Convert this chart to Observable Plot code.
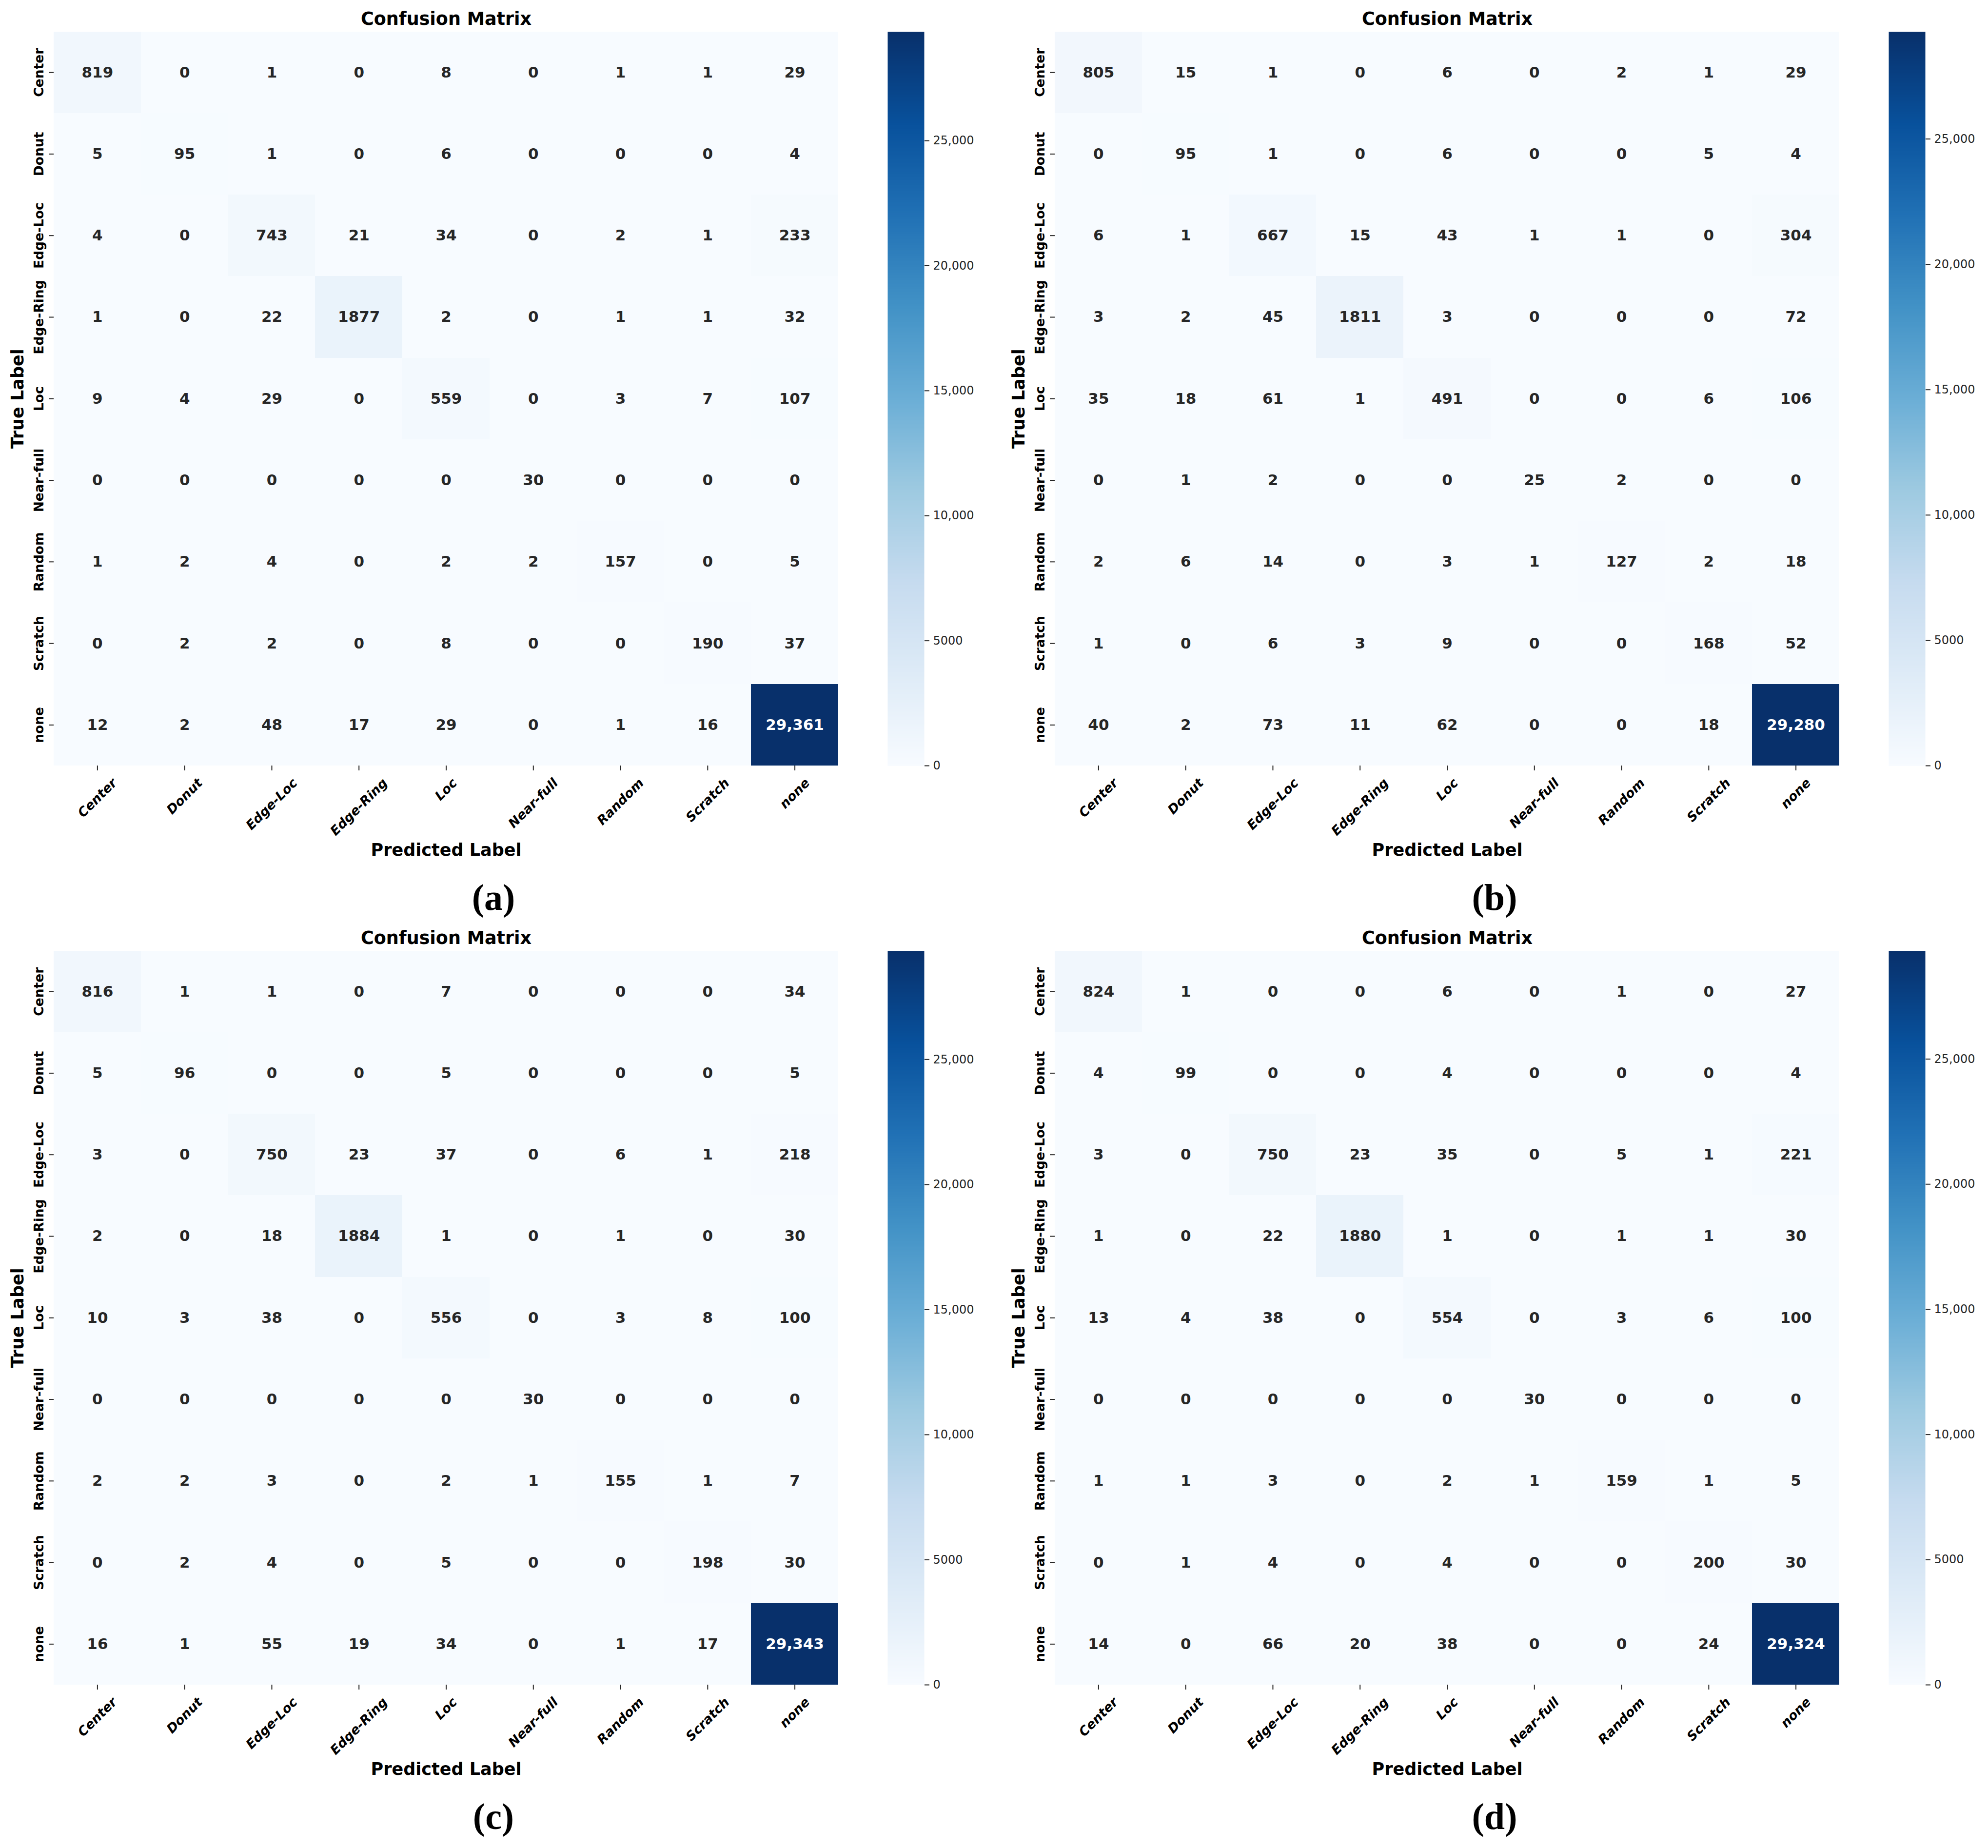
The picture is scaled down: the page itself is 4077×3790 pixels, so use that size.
<!DOCTYPE html>
<html><head><meta charset="utf-8">
<script src="https://cdn.jsdelivr.net/npm/d3@7"></script>
<script src="https://cdn.jsdelivr.net/npm/@observablehq/plot@0.6"></script>
<style>
html,body{margin:0;padding:0;background:#fff;overflow:hidden}
#fig{position:relative;width:4077px;height:3790px;background:#fff;overflow:hidden}
.part{position:absolute;line-height:0}
</style></head><body><div id="fig"></div>
<script>
// ---------------- data ----------------
const categories = ["Center","Donut","Edge-Loc","Edge-Ring","Loc","Near-full","Random","Scratch","none"];

const matrixA = [
  [819, 0, 1, 0, 8, 0, 1, 1, 29],
  [5, 95, 1, 0, 6, 0, 0, 0, 4],
  [4, 0, 743, 21, 34, 0, 2, 1, 233],
  [1, 0, 22, 1877, 2, 0, 1, 1, 32],
  [9, 4, 29, 0, 559, 0, 3, 7, 107],
  [0, 0, 0, 0, 0, 30, 0, 0, 0],
  [1, 2, 4, 0, 2, 2, 157, 0, 5],
  [0, 2, 2, 0, 8, 0, 0, 190, 37],
  [12, 2, 48, 17, 29, 0, 1, 16, 29361]
];
const matrixB = [
  [805, 15, 1, 0, 6, 0, 2, 1, 29],
  [0, 95, 1, 0, 6, 0, 0, 5, 4],
  [6, 1, 667, 15, 43, 1, 1, 0, 304],
  [3, 2, 45, 1811, 3, 0, 0, 0, 72],
  [35, 18, 61, 1, 491, 0, 0, 6, 106],
  [0, 1, 2, 0, 0, 25, 2, 0, 0],
  [2, 6, 14, 0, 3, 1, 127, 2, 18],
  [1, 0, 6, 3, 9, 0, 0, 168, 52],
  [40, 2, 73, 11, 62, 0, 0, 18, 29280]
];
const matrixC = [
  [816, 1, 1, 0, 7, 0, 0, 0, 34],
  [5, 96, 0, 0, 5, 0, 0, 0, 5],
  [3, 0, 750, 23, 37, 0, 6, 1, 218],
  [2, 0, 18, 1884, 1, 0, 1, 0, 30],
  [10, 3, 38, 0, 556, 0, 3, 8, 100],
  [0, 0, 0, 0, 0, 30, 0, 0, 0],
  [2, 2, 3, 0, 2, 1, 155, 1, 7],
  [0, 2, 4, 0, 5, 0, 0, 198, 30],
  [16, 1, 55, 19, 34, 0, 1, 17, 29343]
];
const matrixD = [
  [824, 1, 0, 0, 6, 0, 1, 0, 27],
  [4, 99, 0, 0, 4, 0, 0, 0, 4],
  [3, 0, 750, 23, 35, 0, 5, 1, 221],
  [1, 0, 22, 1880, 1, 0, 1, 1, 30],
  [13, 4, 38, 0, 554, 0, 3, 6, 100],
  [0, 0, 0, 0, 0, 30, 0, 0, 0],
  [1, 1, 3, 0, 2, 1, 159, 1, 5],
  [0, 1, 4, 0, 4, 0, 0, 200, 30],
  [14, 0, 66, 20, 38, 0, 0, 24, 29324]
];
const panelLetters = ["(a)", "(b)", "(c)", "(d)"];
const chartTitle = "Confusion Matrix";
const xAxisTitle = "Predicted Label";
const yAxisTitle = "True Label";
const colorbarTicks = [0, 5000, 10000, 15000, 20000, 25000];

// ---------------- style / layout ----------------
const bluesStops = ["#f7fbff","#deebf7","#c6dbef","#9ecae1","#6baed6","#4292c6","#2171b5","#08519c","#08306b"];
const FONT = "DejaVu Sans";
const PW = 2053, PH = 1885;            // panel pitch
const ML = 110, MT = 64.5, FW = 1609, FH = 1505.5;
const HM_W = 1760;
const CB_X = 1820, CB_W = 75, CB_MR = 115;
const TICK_FS = 26.5, ANN_FS = 31, LAB_FS = 35, TITLE_FS = 36.5, CB_FS = 24;

const fmt = v => v >= 10000 ? d3.format(",")(v) : String(v);

const ctx = document.createElement("canvas").getContext("2d");
ctx.font = `italic bold ${TICK_FS}px "${FONT}"`;
const xLabelOffset = c => 20 + (ctx.measureText(c).width + TICK_FS * 1.164) / (2 * Math.SQRT2);

function luminance(c) {
  const r = d3.rgb(c);
  const f = u => { u /= 255; return u <= 0.03928 ? u / 12.92 : Math.pow((u + 0.055) / 1.055, 2.4); };
  return 0.2126 * f(r.r) + 0.7152 * f(r.g) + 0.0722 * f(r.b);
}

function makePanel(matrix, letter, ox, oy) {
  const data = [];
  matrix.forEach((row, i) => row.forEach((v, j) => data.push({t: categories[i], p: categories[j], v})));
  const vmax = d3.max(data, d => d.v);
  const colorOpts = {
    type: "linear",
    domain: bluesStops.map((_, k) => vmax * k / (bluesStops.length - 1)),
    range: bluesStops,
    interpolate: "rgb"
  };
  const cs = Plot.scale({color: colorOpts});
  const darkText = data.filter(d => luminance(cs.apply(d.v)) > 0.408);
  const whiteText = data.filter(d => !(luminance(cs.apply(d.v)) > 0.408));

  const heat = Plot.plot({
    width: HM_W, height: PH,
    marginLeft: ML, marginTop: MT, marginRight: HM_W - ML - FW, marginBottom: PH - MT - FH,
    style: {fontFamily: FONT, background: "transparent", overflow: "visible", color: "black"},
    x: {type: "band", domain: categories, padding: 0, round: false},
    y: {type: "band", domain: categories, padding: 0, round: false},
    color: colorOpts,
    marks: [
      Plot.cell(data, {x: "p", y: "t", fill: "v", inset: 0, shapeRendering: "crispEdges"}),
      Plot.text(darkText, {x: "p", y: "t", text: d => fmt(d.v), fill: "#262626", fontSize: ANN_FS, fontWeight: "bold", fontFamily: FONT}),
      Plot.text(whiteText, {x: "p", y: "t", text: d => fmt(d.v), fill: "white", fontSize: ANN_FS, fontWeight: "bold", fontFamily: FONT}),
      Plot.axisX({anchor: "bottom", tickSize: 10, strokeWidth: 2, stroke: "#262626", tickFormat: () => "", label: null}),
      Plot.axisY({anchor: "left", tickSize: 10, strokeWidth: 2, stroke: "#262626", tickFormat: () => "", label: null}),
      ...categories.map(c => Plot.text([c], {
        x: d => d, text: d => d, frameAnchor: "bottom", rotate: -45,
        textAnchor: "middle", lineAnchor: "middle", dy: xLabelOffset(c),
        fontSize: TICK_FS, fontWeight: "bold", fontStyle: "italic", fontFamily: FONT, fill: "black"
      })),
      Plot.text(categories, {
        y: d => d, text: d => d, frameAnchor: "left", dx: -22, rotate: -90,
        textAnchor: "middle", lineAnchor: "bottom",
        fontSize: TICK_FS, fontWeight: "bold", fontFamily: FONT, fill: "black"
      }),
      Plot.text([chartTitle], {text: d => d, frameAnchor: "top", dy: -14.5, lineAnchor: "bottom",
        fontSize: TITLE_FS, fontWeight: "bold", fontFamily: FONT, fill: "black"}),
      Plot.text([xAxisTitle], {text: d => d, frameAnchor: "bottom", dy: 184, lineAnchor: "bottom",
        fontSize: LAB_FS, fontWeight: "bold", fontFamily: FONT, fill: "black"}),
      Plot.text([yAxisTitle], {text: d => d, frameAnchor: "left", dx: -63, rotate: -90, textAnchor: "middle", lineAnchor: "bottom",
        fontSize: LAB_FS, fontWeight: "bold", fontFamily: FONT, fill: "black"}),
      Plot.text([letter], {text: d => d, frameAnchor: "bottom", dx: 97, dy: 295, lineAnchor: "bottom",
        fontSize: 76, fontWeight: "bold", fontFamily: "Liberation Serif", fill: "black"})
    ]
  });

  const cbar = Plot.plot({
    width: CB_W + CB_MR, height: PH,
    marginLeft: 0, marginRight: CB_MR, marginTop: MT, marginBottom: PH - MT - FH,
    style: {fontFamily: FONT, background: "transparent", overflow: "visible", color: "black"},
    x: {domain: [0, 1], axis: null},
    y: {domain: [0, vmax], axis: null},
    color: colorOpts,
    marks: [
      Plot.raster({x1: 0, x2: 1, y1: 0, y2: vmax, width: 1, height: 600, fill: (x, y) => y}),
      Plot.axisY(colorbarTicks, {anchor: "right", tickSize: 10, tickPadding: 8, strokeWidth: 2, stroke: "#262626",
        tickFormat: fmt, fontSize: CB_FS, fontFamily: FONT, label: null, fill: "#262626"})
    ]
  });

  const fig = document.getElementById("fig");
  const w1 = document.createElement("div");
  w1.className = "part"; w1.style.left = ox + "px"; w1.style.top = oy + "px";
  w1.appendChild(heat);
  fig.appendChild(w1);
  const w2 = document.createElement("div");
  w2.className = "part"; w2.style.left = (ox + CB_X) + "px"; w2.style.top = oy + "px";
  w2.appendChild(cbar);
  fig.appendChild(w2);
}

makePanel(matrixA, panelLetters[0], 0, 0);
makePanel(matrixB, panelLetters[1], PW, 0);
makePanel(matrixC, panelLetters[2], 0, PH);
makePanel(matrixD, panelLetters[3], PW, PH);
</script>
</body></html>
